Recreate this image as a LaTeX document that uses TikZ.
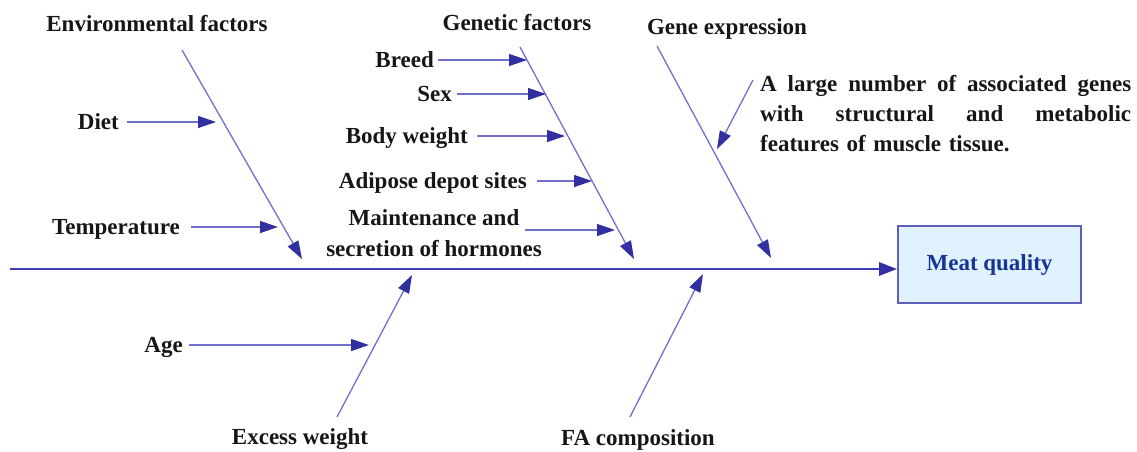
\documentclass[tikz,border=0pt]{standalone}
\usepackage{fontspec}
\setmainfont{Liberation Serif}
\usetikzlibrary{arrows.meta,calc}
\definecolor{spinec}{RGB}{62,62,172}
\definecolor{thinc}{RGB}{112,112,205}
\definecolor{headc}{RGB}{48,48,160}
\definecolor{boxline}{RGB}{95,95,185}
\definecolor{boxfill}{RGB}{224,242,255}
\definecolor{boxtext}{RGB}{22,52,145}
\definecolor{labelc}{RGB}{22,22,22}
\begin{document}
\begin{tikzpicture}[x=1pt,y=-1pt,
  lbl/.style={font=\fontsize{23}{30}\selectfont\bfseries, text=labelc, inner sep=0pt, text height=18pt, text depth=3pt},
  para/.style={font=\fontsize{23}{30}\selectfont\bfseries, text=labelc, inner sep=0pt},
  sub/.style={draw=thinc, line width=1.3pt, -{Triangle[length=18pt,width=12pt,color=headc]}},
  spinestyle/.style={draw=spinec, line width=2.8pt, -{Triangle[length=18pt,width=13pt,color=headc]}},
  effect/.style={draw=boxline, line width=1.8pt, fill=boxfill, minimum width=183pt, minimum height=77pt, inner sep=0pt, font=\fontsize{23}{30}\selectfont\bfseries, text=boxtext}
]
\useasboundingbox (0,0) rectangle (1137,451);

% effect box and spine
\node[effect] (meat) at (989.5,264.5) {Meat quality};
\coordinate (s0) at (10,269);
\draw[spinestyle] (s0) -- (s0 -| meat.west);

% Environmental factors
\node[lbl] (env) at (157,24) {Environmental factors};
\coordinate (e1) at (182,50);
\coordinate (e2) at (302,259);
\draw[sub] (e1) -- (e2);
\node[lbl, anchor=east] (diet) at (119,122) {Diet};
\coordinate (dietT) at (216,122);
\draw[sub] ($(diet.east)+(8,0)$) -- (dietT);
\node[lbl, anchor=east] (temp) at (180,227) {Temperature};
\coordinate (tempT) at (278,227);
\draw[sub] ($(temp.east)+(11,0)$) -- (tempT);

% Genetic factors
\node[lbl] (gen) at (517,23) {Genetic factors};
\coordinate (g1) at (520,47);
\coordinate (g2) at (634,259);
\draw[sub] (g1) -- (g2);
\node[lbl, anchor=east] (breed) at (434,60) {Breed};
\coordinate (breedT) at (527,60);
\draw[sub] ($(breed.east)+(4,0)$) -- (breedT);
\node[lbl, anchor=east] (sex) at (452,94) {Sex};
\coordinate (sexT) at (546,94);
\draw[sub] ($(sex.east)+(5,0)$) -- (sexT);
\node[lbl, anchor=east] (bw) at (468,136) {Body weight};
\coordinate (bwT) at (565,136);
\draw[sub] ($(bw.east)+(9,0)$) -- (bwT);
\node[lbl, anchor=east] (adi) at (527,181) {Adipose depot sites};
\coordinate (adiT) at (592,181);
\draw[sub] ($(adi.east)+(10,0)$) -- (adiT);
\node[para, align=center, font=\fontsize{23}{31}\selectfont\bfseries] (horm) at (434,233) {Maintenance and\\secretion of hormones};
\coordinate (hormS) at (525,230);
\coordinate (hormT) at (615,230);
\draw[sub] (hormS) -- (hormT);

% Gene expression
\node[lbl] (gex) at (727,27) {Gene expression};
\coordinate (x1) at (657,46);
\coordinate (x2) at (771,258);
\draw[sub] (x1) -- (x2);
\node[para, anchor=north west, align=left, text width=371pt] (genes) at (760,75)
  {\makebox[371pt]{A\hfill large\hfill number\hfill of\hfill associated\hfill genes}\\
   \makebox[371pt]{with\hfill structural\hfill and\hfill metabolic}\\
   features of muscle tissue.};
\coordinate (a1) at (753,80);
\coordinate (a2) at (717,149);
\draw[sub] (a1) -- (a2);

% Excess weight
\node[lbl] (exw) at (300,437) {Excess weight};
\coordinate (w1) at (337,417);
\coordinate (w2) at (412,275);
\draw[sub] (w1) -- (w2);
\node[lbl, anchor=east] (age) at (183,345) {Age};
\coordinate (ageT) at (369,345);
\draw[sub] ($(age.east)+(6,0)$) -- (ageT);

% FA composition
\node[lbl] (fa) at (638,438) {FA composition};
\coordinate (f1) at (630,417);
\coordinate (f2) at (703,274);
\draw[sub] (f1) -- (f2);
\end{tikzpicture}
\end{document}
